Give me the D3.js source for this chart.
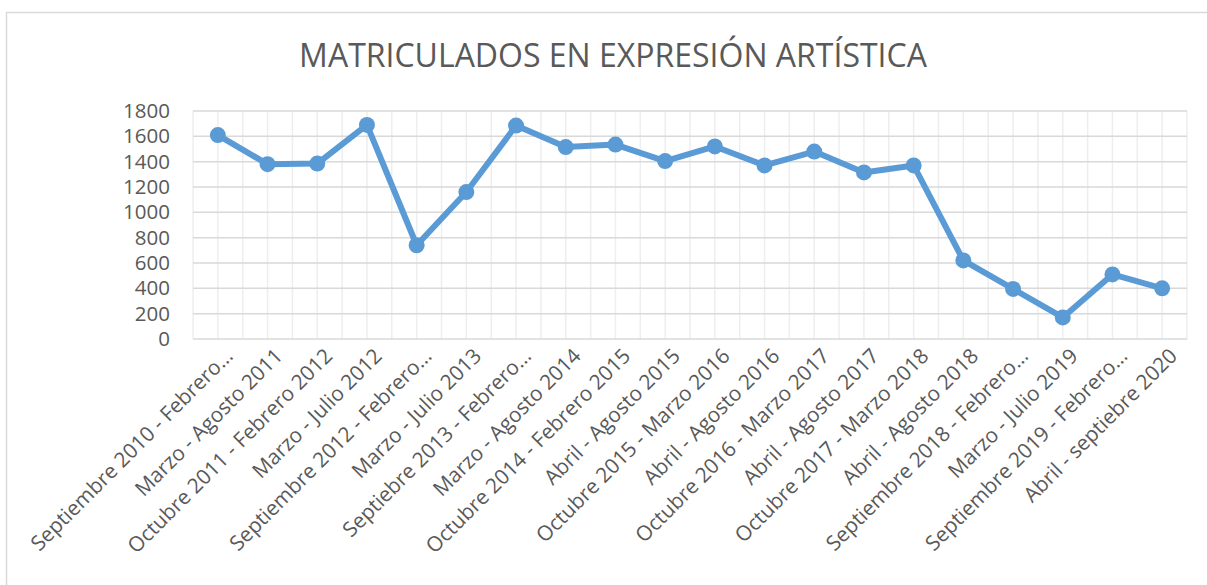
<!doctype html>
<meta charset="utf-8" />
<style>
    body {
        margin: 0;
        background: #FFFFFF;
    }
    text {
        font-family: 'Open Sans', sans-serif;
        fill: #595959;
    }
</style>
<svg></svg>

<script src="https://cdn.jsdelivr.net/npm/d3@7"></script>
<script>
    // periodos (etiquetas tal como aparecen, recortadas)
    var periodos = [
        'Septiembre 2010 - Febrero…', 'Marzo - Agosto 2011', 'Octubre 2011 - Febrero 2012',
        'Marzo - Julio 2012', 'Septiembre 2012 - Febrero…', 'Marzo - Julio 2013',
        'Septiebre 2013 - Febrero…', 'Marzo - Agosto 2014', 'Octubre 2014 - Febrero 2015',
        'Abril - Agosto 2015', 'Octubre 2015 - Marzo 2016', 'Abril - Agosto 2016',
        'Octubre 2016 - Marzo 2017', 'Abril - Agosto 2017', 'Octubre 2017 - Marzo 2018',
        'Abril - Agosto 2018', 'Septiembre 2018 - Febrero…', 'Marzo - Julio 2019',
        'Septiembre 2019 - Febrero…', 'Abril - septiebre 2020'
    ]
    var matriculados = [1610, 1380, 1385, 1690, 740, 1160, 1685, 1515, 1535, 1405,
        1520, 1370, 1480, 1315, 1370, 620, 395, 170, 510, 400]
    var yTicks = [0, 200, 400, 600, 800, 1000, 1200, 1400, 1600, 1800]
    var titulo = 'MATRICULADOS EN EXPRESIÓN ARTÍSTICA'

    var W = 1207, H = 585
    var mLeft = 193, mRight = 1187, mTop = 111, mBottom = 339

    var svg = d3.select('svg')
        .attr('width', W)
        .attr('height', H)

    // marco del gráfico
    svg.append('rect')
        .attr('x', 6.5)
        .attr('y', 12.5)
        .attr('width', W + 10)
        .attr('height', H + 10)
        .style('fill', 'white')
        .style('stroke', '#D9D9D9')
        .style('stroke-width', 1.5)

    svg.append('text')
        .attr('x', 613)
        .attr('y', 58)
        .attr('text-anchor', 'middle')
        .attr('dominant-baseline', 'middle')
        .style('font-size', '32px')
        .text(titulo)

    var x = d3.scaleBand()
        .domain(periodos)
        .range([mLeft, mRight])

    var y = d3.scaleLinear()
        .domain([0, 1800])
        .range([mBottom, mTop])

    // rejilla vertical (menor): bordes y centros de categoría
    var half = x.bandwidth() / 2
    var vx = d3.range(periodos.length * 2 + 1).map(i => mLeft + i * half)
    svg.append('g')
        .selectAll('line')
        .data(vx)
        .join('line')
        .attr('x1', d => d)
        .attr('x2', d => d)
        .attr('y1', mTop)
        .attr('y2', mBottom)
        .style('stroke', '#EEEEEE')
        .style('stroke-width', 1.5)

    // rejilla horizontal
    svg.append('g')
        .selectAll('line')
        .data(yTicks)
        .join('line')
        .attr('x1', mLeft)
        .attr('x2', mRight)
        .attr('y1', d => y(d))
        .attr('y2', d => y(d))
        .style('stroke', '#D9D9D9')
        .style('stroke-width', 1.5)

    // eje y
    var yAxis = svg.append('g')
        .attr('transform', 'translate(' + (mLeft - 23) + ',0)')
        .call(d3.axisLeft(y).tickValues(yTicks).tickSize(0).tickPadding(0).tickFormat(d3.format('d')))
    yAxis.select('.domain').remove()
    yAxis.selectAll('text')
        .style('font-size', '20.5px')
        .style('font-family', "'Open Sans', sans-serif")
        .style('fill', '#595959')

    // eje x
    svg.append('g')
        .selectAll('text')
        .data(periodos)
        .join('text')
        .attr('transform', d => 'translate(' + (x(d) + half + 6) + ',' + (mBottom + 8) + ') rotate(-45)')
        .attr('text-anchor', 'end')
        .attr('dy', '0.7em')
        .style('font-size', '20.8px')
        .text(d => d)

    var line = d3.line()
        .x((d, i) => x(periodos[i]) + half)
        .y(d => y(d))

    svg.append('path')
        .datum(matriculados)
        .attr('d', line)
        .style('fill', 'none')
        .style('stroke', '#5B9BD5')
        .style('stroke-width', 6)
        .style('stroke-linejoin', 'round')

    svg.append('g')
        .selectAll('circle')
        .data(matriculados)
        .join('circle')
        .attr('cx', (d, i) => x(periodos[i]) + half)
        .attr('cy', d => y(d))
        .attr('r', 8)
        .style('fill', '#5B9BD5')
</script>
